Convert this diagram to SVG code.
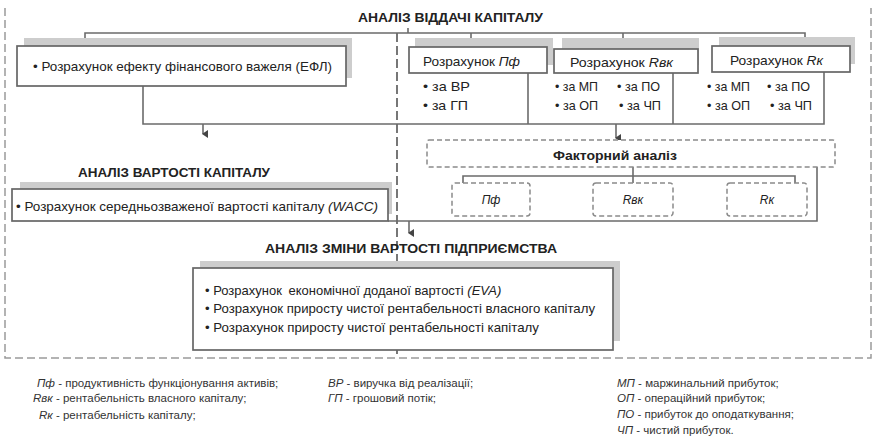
<svg xmlns="http://www.w3.org/2000/svg" width="874" height="442" viewBox="0 0 874 442">
<defs>
<marker id="arr" markerWidth="8" markerHeight="8" refX="4" refY="6" orient="auto" markerUnits="userSpaceOnUse" viewBox="0 0 8 8">
<path d="M0,1 L8,1 L4,7 Z" fill="#444"/>
</marker>
</defs>
<style>
text{font-family:"Liberation Sans",Arial,sans-serif;fill:#222}
.t{font-size:13px}
.h{font-size:13.5px;font-weight:bold}
.lg{font-size:11.5px;fill:#333}
.i{font-style:italic}
.box{fill:#fff;stroke:#666;stroke-width:1.7}
.sh{fill:#cdcdcd}
.dbox{fill:#fff;stroke:#8a8a8a;stroke-width:1.5;stroke-dasharray:5 3}
.ln{fill:none;stroke:#6b6b6b;stroke-width:1.6}
.frame{fill:none;stroke:#9a9a9a;stroke-width:1.5;stroke-dasharray:8 4}
.vd{fill:none;stroke:#555;stroke-width:1.6;stroke-dasharray:9 4}
</style>
<rect width="874" height="442" fill="#fff"/>

<g id="frame">
<path class="frame" d="M5,8 V358 H871 V8"/>
<path class="vd" d="M397,33 V358"/>
</g>

<g id="connectors">
<path class="ln" d="M85,46 V33 H805 V46"/>
<path class="ln" d="M471,33 V47"/>
<path class="ln" d="M623,33 V49"/>
<path class="ln" d="M408,28 V33"/>
<path class="ln" d="M143,86 V124 H824 V72"/>
<path class="ln" d="M528,73 V124"/>
<path class="ln" d="M673,73 V124"/>
<path class="ln" d="M203,124 V134" marker-end="url(#arr)"/>
<path class="ln" d="M616,124 V138" marker-end="url(#arr)"/>
<path class="ln" d="M633,167 V176"/>
<path class="ln" d="M463,183 V176 H795 V183"/>
<path class="ln" d="M633,176 V183"/>
<path class="ln" d="M817,167 V221 H388"/>
<path class="ln" d="M409,221 V233" marker-end="url(#arr)"/>
</g>

<g id="title-main">
<text class="h" x="358" y="22" textLength="185" lengthAdjust="spacingAndGlyphs">АНАЛІЗ ВІДДАЧІ КАПІТАЛУ</text>
</g>

<g id="efl">
<rect class="sh" x="24" y="38" width="328" height="40"/>
<rect class="box" x="17" y="46" width="329" height="40"/>
<text class="t" x="33" y="71" textLength="299" lengthAdjust="spacingAndGlyphs">• Розрахунок ефекту фінансового важеля (ЕФЛ)</text>
</g>

<g id="pf">
<rect class="sh" x="415" y="38" width="138" height="27"/>
<rect class="box" x="409" y="47" width="138" height="26"/>
<text class="t" x="423" y="66" textLength="97" lengthAdjust="spacingAndGlyphs">Розрахунок <tspan class="i">Пф</tspan></text>
<text class="t" x="423" y="91" textLength="47" lengthAdjust="spacingAndGlyphs">• за ВР</text>
<text class="t" x="423" y="110" textLength="45" lengthAdjust="spacingAndGlyphs">• за ГП</text>
</g>

<g id="rvk">
<rect class="sh" x="562" y="38" width="137" height="27"/>
<rect class="box" x="554" y="49" width="144" height="24"/>
<text class="t" x="570" y="67" textLength="103" lengthAdjust="spacingAndGlyphs">Розрахунок <tspan class="i">Rвк</tspan></text>
<text class="t" x="555" y="91" textLength="43" lengthAdjust="spacingAndGlyphs">• за МП</text>
<text class="t" x="617" y="91" textLength="43" lengthAdjust="spacingAndGlyphs">• за ПО</text>
<text class="t" x="555" y="110" textLength="43" lengthAdjust="spacingAndGlyphs">• за ОП</text>
<text class="t" x="619" y="110" textLength="42" lengthAdjust="spacingAndGlyphs">• за ЧП</text>
</g>

<g id="rk">
<rect class="sh" x="719" y="37" width="136" height="27"/>
<rect class="box" x="712" y="46" width="138" height="26"/>
<text class="t" x="730" y="65" textLength="93" lengthAdjust="spacingAndGlyphs">Розрахунок <tspan class="i">Rк</tspan></text>
<text class="t" x="707" y="91" textLength="43" lengthAdjust="spacingAndGlyphs">• за МП</text>
<text class="t" x="767" y="91" textLength="43" lengthAdjust="spacingAndGlyphs">• за ПО</text>
<text class="t" x="707" y="110" textLength="43" lengthAdjust="spacingAndGlyphs">• за ОП</text>
<text class="t" x="770" y="110" textLength="42" lengthAdjust="spacingAndGlyphs">• за ЧП</text>
</g>

<g id="wacc">
<text class="h" x="78" y="177" textLength="192" lengthAdjust="spacingAndGlyphs">АНАЛІЗ ВАРТОСТІ КАПІТАЛУ</text>
<rect class="sh" x="20" y="182" width="372" height="32"/>
<rect class="box" x="12" y="189" width="376" height="32"/>
<text class="t" x="16" y="211" textLength="362" lengthAdjust="spacingAndGlyphs">• Розрахунок середньозваженої вартості капіталу <tspan class="i">(WACC)</tspan></text>
</g>

<g id="factor">
<rect class="dbox" x="427" y="140" width="408" height="27" rx="2"/>
<text x="553" y="160" textLength="124" lengthAdjust="spacingAndGlyphs" style="font-size:13px;font-weight:bold">Факторний аналіз</text>
</g>

<g id="f-pf">
<rect class="dbox" x="452" y="183" width="78" height="33" rx="3"/>
<text class="i" x="491" y="204" style="font-size:12px;text-anchor:middle">Пф</text>
</g>
<g id="f-rvk">
<rect class="dbox" x="593" y="183" width="80" height="33" rx="3"/>
<text class="i" x="633" y="204" style="font-size:12px;text-anchor:middle">Rвк</text>
</g>
<g id="f-rk">
<rect class="dbox" x="727" y="183" width="80" height="33" rx="3"/>
<text class="i" x="767" y="204" style="font-size:12px;text-anchor:middle">Rк</text>
</g>

<g id="value">
<text class="h" x="265" y="253" textLength="292" lengthAdjust="spacingAndGlyphs">АНАЛІЗ ЗМІНИ ВАРТОСТІ ПІДПРИЄМСТВА</text>
<rect class="sh" x="200" y="261" width="420" height="80"/>
<rect class="box" x="193" y="268" width="420" height="82"/>
<text class="t" x="205" y="295">• Розрахунок <tspan dx="3">економічної доданої вартості </tspan><tspan class="i">(EVA)</tspan></text>
<text class="t" x="205" y="313" textLength="390" lengthAdjust="spacingAndGlyphs">• Розрахунок приросту чистої рентабельності власного капіталу</text>
<text class="t" x="205" y="332" textLength="334" lengthAdjust="spacingAndGlyphs">• Розрахунок приросту чистої рентабельності капіталу</text>
</g>

<g id="legend">
<text class="lg" x="37" y="387"><tspan class="i">Пф</tspan> - продуктивність функціонування активів;</text>
<text class="lg" x="33" y="402"><tspan class="i">Rвк</tspan> - рентабельність власного капіталу;</text>
<text class="lg" x="39" y="419"><tspan class="i">Rк</tspan> - рентабельність капіталу;</text>
<text class="lg" x="328" y="387"><tspan class="i">ВР</tspan> - виручка від реалізації;</text>
<text class="lg" x="328" y="402"><tspan class="i">ГП</tspan> - грошовий потік;</text>
<text class="lg" x="617" y="387"><tspan class="i">МП</tspan> - маржинальний прибуток;</text>
<text class="lg" x="617" y="402"><tspan class="i">ОП</tspan> - операційний прибуток;</text>
<text class="lg" x="617" y="418"><tspan class="i">ПО</tspan> - прибуток до оподаткування;</text>
<text class="lg" x="617" y="434"><tspan class="i">ЧП</tspan> - чистий прибуток.</text>
</g>
</svg>
